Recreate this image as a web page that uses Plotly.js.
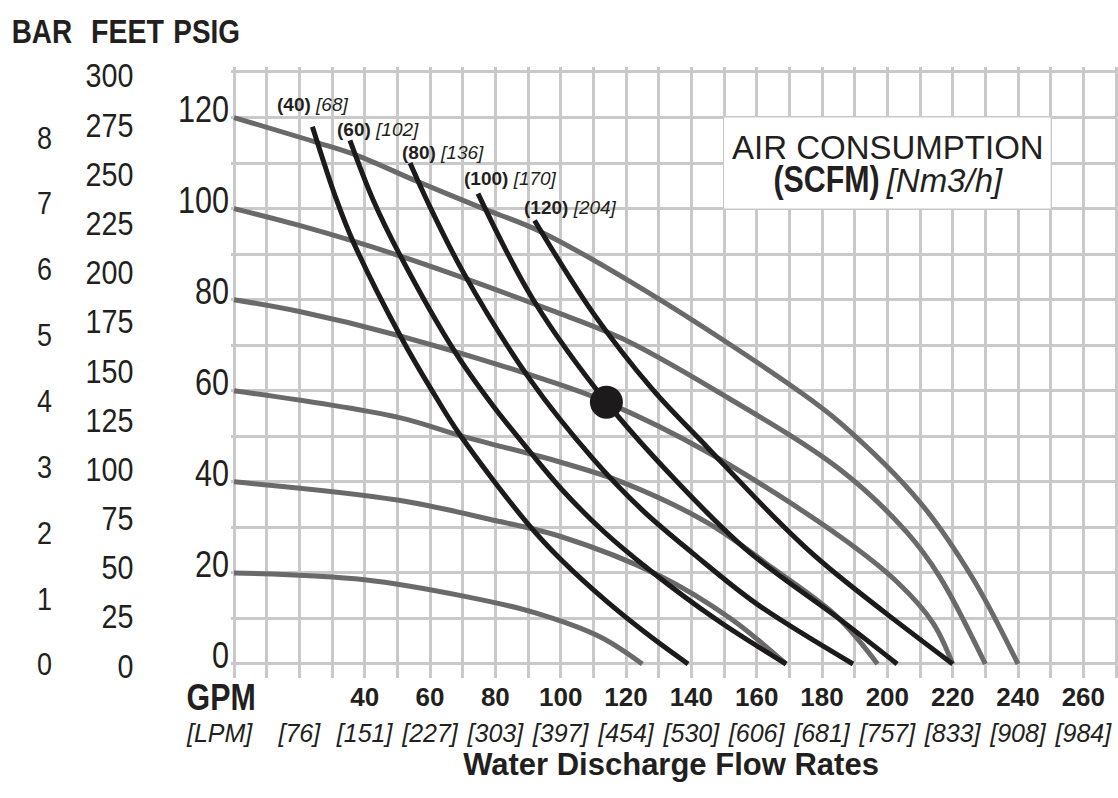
<!DOCTYPE html>
<html><head><meta charset="utf-8">
<script src="https://cdn.plot.ly/plotly-3.0.1.min.js"></script>
<style>html,body{margin:0;padding:0;background:#fff;}#chart{width:1118px;height:798px;}</style>
</head><body><div id="chart"></div>
<script>
// ---------- tick labels ----------
const psigTicks = [0, 20, 40, 60, 80, 100, 120];
const feetTicks = [0, 25, 50, 75, 100, 125, 150, 175, 200, 225, 250, 275, 300];
const barTicks = [0, 1, 2, 3, 4, 5, 6, 7, 8];
const gpmTicks = [40, 60, 80, 100, 120, 140, 160, 180, 200, 220, 240, 260];
const lpmTicks = [20, 40, 60, 80, 100, 120, 140, 160, 180, 200, 220, 240, 260];
const lpmText = ['[76]', '[151]', '[227]', '[303]', '[397]', '[454]', '[530]', '[606]', '[681]', '[757]', '[833]', '[908]', '[984]'];

// ---------- discharge pressure curves (PSIG vs GPM) ----------
const p20Gpm = [0, 40, 71, 92, 112, 125];
const p20Psi = [20, 18.5, 14.8, 11.3, 6, 0];
const p40Gpm = [0, 50, 80, 100, 130, 152, 169];
const p40Psi = [40, 36, 31.5, 28, 19.5, 10, 0];
const p60Gpm = [0, 50, 70, 100, 119, 145, 165, 184.6, 197];
const p60Psi = [60, 54.2, 50, 44.3, 39.9, 31, 21, 10.4, 0];
const p80Gpm = [0, 20, 50, 97, 114, 145, 185.5, 203, 214, 220];
const p80Psi = [80, 77.4, 72.2, 62, 57.5, 46.5, 28, 18, 9, 0];
const p100Gpm = [0, 20, 50, 97, 119, 146.6, 185.5, 206, 216, 230];
const p100Psi = [100, 96.3, 89.8, 77.7, 71.4, 60.4, 42.7, 28.9, 19.2, 0];
const p120Gpm = [0, 25, 37.6, 56, 76.3, 93.7, 127, 172, 185.5, 210, 226, 240];
const p120Psi = [120, 114.6, 111.7, 106, 100, 95, 81.5, 60.4, 53, 35.5, 19, 0];

// ---------- air consumption curves (SCFM) ----------
const a40Gpm = [24, 31.4, 36.5, 50.8, 62, 69.2, 89.7, 100, 114, 127, 139];
const a40Psi = [118, 101.9, 92.7, 72.2, 58.4, 50.3, 31, 23, 13.8, 6.3, 0];
const a60Gpm = [35.5, 42.6, 50.8, 67.6, 79, 90.6, 100, 113, 127.3, 148, 169];
const a60Psi = [115, 101.9, 89.8, 68.6, 57, 46.6, 38.6, 29.2, 20.6, 9.6, 0];
const a80Gpm = [53.9, 59, 70.2, 90.6, 110, 125, 140.5, 160, 189.5];
const a80Psi = [110, 101.9, 86, 62.5, 45, 33.8, 24.3, 13.2, 0];
const a100Gpm = [74.7, 91.6, 114, 135, 157, 185.5, 203];
const a100Psi = [103.3, 80, 57.5, 40.5, 25, 9.8, 0];
const a120Gpm = [92, 110, 128, 145, 165, 175.4, 185.5, 200, 220];
const a120Psi = [97.4, 77, 60.4, 47.5, 32.5, 25.3, 19.1, 10.9, 0];
const airLabelsScfm = ['(40)', '(60)', '(80)', '(100)', '(120)'];
const airLabelsNm3 = ['[68]', '[102]', '[136]', '[170]', '[204]'];

// ---------- operating point ----------
const pointGpm = [114];
const pointPsi = [57.5];

// ---------- geometry ----------
const W = 1118, H = 798;
const X0PX = 234, X270PX = 1116, Y0PX = 664, Y130PX = 72;
const pxPerGpm = (X270PX - X0PX) / 270;
const pxPerPsi = (Y0PX - Y130PX) / 130;
const xr = [-1, 270.4], yr = [-3, 131];
const xDom = [(X0PX + xr[0] * pxPerGpm) / W, (X0PX + xr[1] * pxPerGpm) / W];
const yBotPx = Y0PX - yr[0] * pxPerPsi, yTopPx = Y0PX - yr[1] * pxPerPsi;
const yDom = [(H - yBotPx) / H, (H - yTopPx) / H];
function rangeFor(pxAtZero, pxPerUnit) {
  return [(pxAtZero - yBotPx) / pxPerUnit, (pxAtZero - yTopPx) / pxPerUnit];
}
const px = v => v / W, py = v => 1 - v / H;

const REG = '"Liberation Sans", Arial, sans-serif';
const INK = '#231f20';
const GRAY = '#6a6a6a';
const BLACK = '#1c1a1b';
const GRID = '#c9c9c9';

const grayCurves = [[p20Gpm, p20Psi], [p40Gpm, p40Psi], [p60Gpm, p60Psi], [p80Gpm, p80Psi], [p100Gpm, p100Psi], [p120Gpm, p120Psi]];
const airCurves = [[a40Gpm, a40Psi], [a60Gpm, a60Psi], [a80Gpm, a80Psi], [a100Gpm, a100Psi], [a120Gpm, a120Psi]];

const traces = [];
grayCurves.forEach(c => traces.push({
  x: c[0], y: c[1], type: 'scatter', mode: 'lines',
  line: {color: GRAY, width: 5, shape: 'spline', smoothing: 1}, hoverinfo: 'skip'
}));
airCurves.forEach(c => traces.push({
  x: c[0], y: c[1], type: 'scatter', mode: 'lines',
  line: {color: BLACK, width: 5, shape: 'spline', smoothing: 1}, hoverinfo: 'skip'
}));
traces.push({x: pointGpm, y: pointPsi, type: 'scatter', mode: 'markers',
  marker: {size: 33, color: BLACK}, hoverinfo: 'skip'});
// invisible carriers so that the extra label axes are drawn
[['x', 'y2'], ['x', 'y3'], ['x', 'y4'], ['x2', 'y'], ['x3', 'y']].forEach(a => traces.push({
  x: [100], y: [50], xaxis: a[0], yaxis: a[1], type: 'scatter', mode: 'markers',
  marker: {opacity: 0, size: 1}, hoverinfo: 'skip'
}));

const labelShift = [[-37, 22], [-15, 11], [-10, 11], [-16, 15], [-13, 13]];
const annotations = airCurves.map((c, i) => ({
  x: c[0][0], y: c[1][0], xref: 'x', yref: 'y', xanchor: 'left', yanchor: 'middle',
  xshift: labelShift[i][0], yshift: labelShift[i][1], showarrow: false,
  text: '<b>' + airLabelsScfm[i] + '</b> <i>' + airLabelsNm3[i] + '</i>',
  font: {family: REG, size: 19, color: INK}
}));
const condensedNotes = [];
function note(text, x, y, size, anchor, squeeze) {
  if (squeeze) condensedNotes.push([annotations.length, squeeze]);
  annotations.push({x: px(x), y: py(y), xref: 'paper', yref: 'paper', xanchor: anchor, yanchor: 'middle',
    showarrow: false, text: text, font: {family: REG, size: size, color: INK}});
}
note('<b>BAR</b>', 42, 31, 34, 'center', 0.82);
note('<b>FEET</b>', 127, 31, 34, 'center', 0.84);
note('<b>PSIG</b>', 206.5, 31, 34, 'center', 0.82);
note('<b>GPM</b>', 220.5, 697, 37, 'center', 0.82);
note('<i>[LPM]</i>', 184, 733, 25, 'left', 0);
const airBoxIndex = annotations.length;
note('<span style="font-size:33px">AIR CONSUMPTION</span><br>' +
     '<b><span style="font-size:37px">(SCFM)</span></b> <i><span style="font-size:33px">[Nm3/h]</span></i>',
     888, 165, 25, 'center', 0);

const hiddenY = {showgrid: false, zeroline: false, showline: false, ticks: '', fixedrange: true};
const layout = {
  width: W, height: H, margin: {l: 0, r: 0, t: 0, b: 0, pad: 0},
  paper_bgcolor: '#fff', plot_bgcolor: '#fff', showlegend: false,
  title: {text: '<b>Water Discharge Flow Rates</b>', x: px(671), y: py(764), xref: 'paper', yref: 'paper',
          xanchor: 'center', yanchor: 'middle', font: {family: REG, size: 31, color: INK}},
  xaxis: {domain: xDom, range: xr, tick0: 0, dtick: 10, showgrid: true, gridcolor: GRID, gridwidth: 3,
          zeroline: false, showline: false, ticks: '', showticklabels: false, fixedrange: true},
  yaxis: {domain: yDom, range: yr, tick0: 0, dtick: 10, showgrid: true, gridcolor: GRID, gridwidth: 3,
          zeroline: false, showline: false, ticks: '', showticklabels: false, fixedrange: true},
  xaxis2: {overlaying: 'x', anchor: 'free', position: py(679), side: 'bottom', range: xr,
           tickmode: 'array', tickvals: gpmTicks, ticktext: gpmTicks.map(v => '<b>' + v + '</b>'),
           showgrid: false, zeroline: false, showline: false, ticks: '',
           tickfont: {family: REG, size: 26, color: INK}, fixedrange: true},
  xaxis3: {overlaying: 'x', anchor: 'free', position: py(716), side: 'bottom', range: xr,
           tickmode: 'array', tickvals: lpmTicks, ticktext: lpmText.map(t => '<i>' + t + '</i>'),
           showgrid: false, zeroline: false, showline: false, ticks: '',
           tickfont: {family: REG, size: 25, color: INK}, fixedrange: true},
  yaxis2: Object.assign({overlaying: 'y', anchor: 'free', position: px(229), side: 'left',
           range: rangeFor(655.5, pxPerPsi), tickmode: 'array', tickvals: psigTicks,
           tickfont: {family: REG, size: 36, color: INK}}, hiddenY),
  yaxis3: Object.assign({overlaying: 'y', anchor: 'free', position: px(133.5), side: 'left',
           range: rangeFor(666, 1.967), tickmode: 'array', tickvals: feetTicks,
           tickfont: {family: REG, size: 33, color: INK}}, hiddenY),
  yaxis4: Object.assign({overlaying: 'y', anchor: 'free', position: px(52), side: 'left',
           range: rangeFor(664.5, 65.85), tickmode: 'array', tickvals: barTicks,
           tickfont: {family: REG, size: 31, color: INK}}, hiddenY),
  shapes: [{type: 'rect', xref: 'x', yref: 'y', x0: 150, x1: 250, y0: 100, y1: 120,
            fillcolor: '#fff', line: {width: 0}, layer: 'above'}],
  annotations: annotations
};

function squeezeText(el, f) {
  const w = el.getComputedTextLength();
  if (w > 0) {
    el.setAttribute('textLength', (w * f).toFixed(2));
    el.setAttribute('lengthAdjust', 'spacingAndGlyphs');
  }
}
Plotly.newPlot('chart', traces, layout, {staticPlot: true, displayModeBar: false}).then(gd => {
  [['y2tick', 0.85], ['y3tick', 0.87], ['y4tick', 0.87]].forEach(s => {
    gd.querySelectorAll('g.' + s[0] + ' text').forEach(t => squeezeText(t, s[1]));
  });
  condensedNotes.forEach(n => {
    const t = gd.querySelector('g.annotation[data-index="' + n[0] + '"] text.annotation-text');
    if (t) squeezeText(t, n[1]);
  });
  // condense only the bold "(SCFM)" part of the air-consumption box
  const box = gd.querySelector('g.annotation[data-index="' + airBoxIndex + '"] text.annotation-text');
  if (box) {
    box.querySelectorAll('tspan').forEach(ts => {
      if (ts.textContent === '(SCFM)' && ts.children.length === 0) squeezeText(ts, 0.82);
    });
  }
});
</script>
</body></html>
